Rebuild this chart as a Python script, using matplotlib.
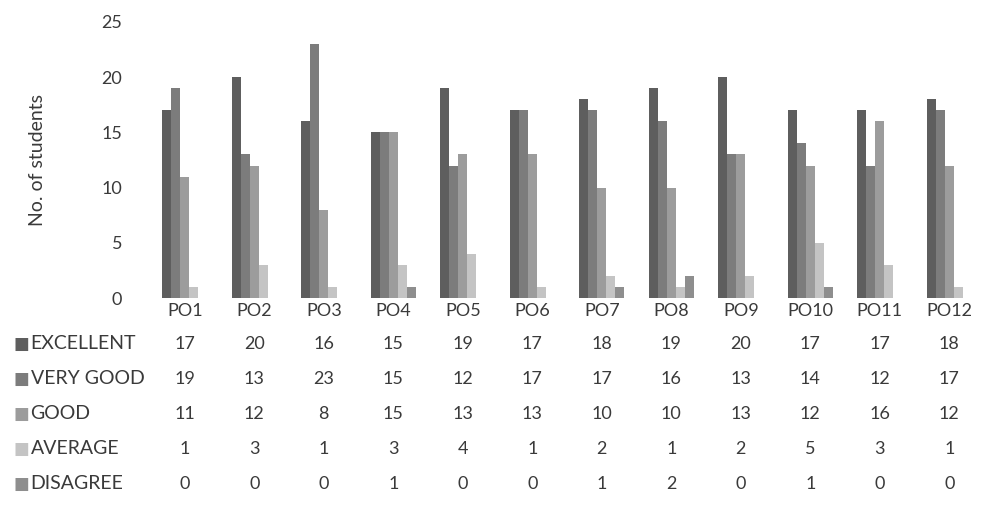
import matplotlib
matplotlib.use("Agg")
import matplotlib.pyplot as plt
import numpy as np

categories = ["PO1", "PO2", "PO3", "PO4", "PO5", "PO6", "PO7", "PO8", "PO9", "PO10", "PO11", "PO12"]
series_names = ["EXCELLENT", "VERY GOOD", "GOOD", "AVERAGE", "DISAGREE"]
excellent = [17, 20, 16, 15, 19, 17, 18, 19, 20, 17, 17, 18]
very_good = [19, 13, 23, 15, 12, 17, 17, 16, 13, 14, 12, 17]
good = [11, 12, 8, 15, 13, 13, 10, 10, 13, 12, 16, 12]
average = [1, 3, 1, 3, 4, 1, 2, 1, 2, 5, 3, 1]
disagree = [0, 0, 0, 1, 0, 0, 1, 2, 0, 1, 0, 0]
series = [excellent, very_good, good, average, disagree]
colors = ["#5e5e5e", "#7c7c7c", "#9c9c9c", "#c4c4c4", "#8e8e8e"]
yticks = [0, 5, 10, 15, 20, 25]

plt.rcParams['font.family'] = ['Lato', 'DejaVu Sans']
txt = "#3a3a3a"

fig = plt.figure(figsize=(9.87, 5.08), dpi=100)
ax = fig.add_axes([0.152, 0.413, 0.845, 0.544])

x = np.arange(len(categories))
w = 0.13
for i, (vals, c) in enumerate(zip(series, colors)):
    ax.bar(x + (i - 2) * w, vals, width=w, color=c, edgecolor='none')

ax.set_xlim(-0.5, len(categories) - 0.5)
ax.set_ylim(0, 25)
ax.set_yticks(yticks)
ax.set_yticklabels([str(t) for t in yticks], fontsize=13, color=txt)
ax.tick_params(axis='y', length=0, pad=20)
ax.set_xticks([])
for s in ax.spines.values():
    s.set_visible(False)
ax.set_ylabel("No. of students", fontsize=14, color=txt, labelpad=40)

trans = ax.get_xaxis_transform()
for xi, cat in zip(x, categories):
    ax.text(xi, -0.045, cat, transform=trans, ha='center', va='center', fontsize=13, color=txt)

row_y = [-0.165, -0.292, -0.419, -0.545, -0.672]
for ry, name, vals, c in zip(row_y, series_names, series, colors):
    for xi, v in zip(x, vals):
        ax.text(xi, ry, str(v), transform=trans, ha='center', va='center', fontsize=13, color=txt)
    fy = 0.413 + 0.544 * ry
    fig.text(0.014, fy, "■", family='DejaVu Sans', fontsize=12, color=c, ha='left', va='center')
    fig.text(0.031, fy, name, fontsize=14, color=txt, ha='left', va='center')

fig.savefig("out.png", dpi=100)
